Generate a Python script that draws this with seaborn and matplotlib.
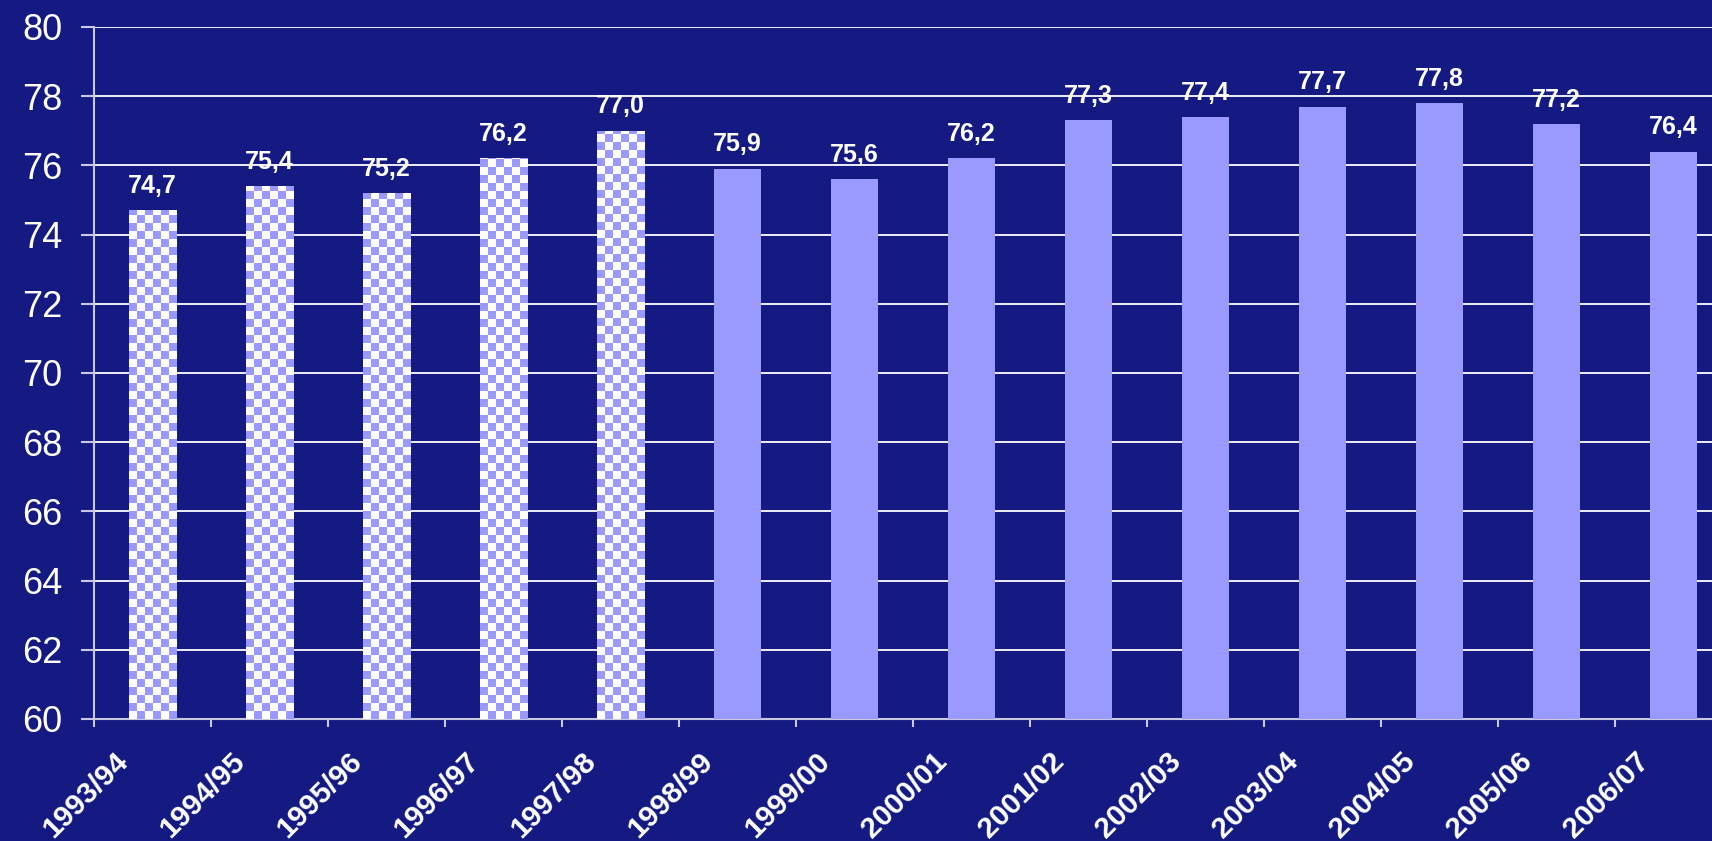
import numpy as np
import matplotlib
matplotlib.use("Agg")
import matplotlib.pyplot as plt
import matplotlib.transforms as mtransforms
from matplotlib.colors import ListedColormap
import seaborn as sns
import pandas as pd

# ---- data ----
seasons = ["1993/94", "1994/95", "1995/96", "1996/97", "1997/98", "1998/99", "1999/00",
           "2000/01", "2001/02", "2002/03", "2003/04", "2004/05", "2005/06", "2006/07"]
values = [74.7, 75.4, 75.2, 76.2, 77.0, 75.9, 75.6, 76.2, 77.3, 77.4, 77.7, 77.8, 77.2, 76.4]
value_labels = ["74,7", "75,4", "75,2", "76,2", "77,0", "75,9", "75,6",
                "76,2", "77,3", "77,4", "77,7", "77,8", "77,2", "76,4"]
checkered = [True, True, True, True, True, False, False,
             False, False, False, False, False, False, False]
y_ticks = [60, 62, 64, 66, 68, 70, 72, 74, 76, 78, 80]

BG = "#141A82"
BAR = "#9999FF"
AXC = "#C8C8E0"

sns.set_style("white")
plt.rcParams["font.family"] = ["Liberation Sans", "DejaVu Sans"]

W, H = 1712, 841
fig = plt.figure(figsize=(W / 100, H / 100), dpi=100, facecolor=BG)
ax = fig.add_axes([94 / W, (H - 719) / H, 1638 / W, (719 - 27) / H])
ax.set_facecolor(BG)

df = pd.DataFrame({"season": seasons, "value": values})
sns.barplot(data=df, x="season", y="value", hue="season", palette=[BAR] * len(seasons),
            legend=False, width=0.41, saturation=1, ax=ax, zorder=3,
            edgecolor="none", linewidth=0)

ax.set_xlim(-0.5, len(seasons) - 0.5)
ax.set_ylim(60, 80)

# checker pattern for the first bars
ax_h_px = 719 - 27
sq_y = 8 / (ax_h_px / 20)
cmap = ListedColormap(["white", BAR])
for bar, chk in zip(ax.patches, checkered):
    if not chk:
        continue
    x0 = bar.get_x()
    w = bar.get_width()
    top = bar.get_height()
    ny = int(np.ceil((top - 60) / sq_y))
    nx = 6
    arr = np.add.outer(np.arange(ny), np.arange(nx)) % 2
    im = ax.imshow(arr, cmap=cmap, extent=(x0, x0 + w, 60, 60 + ny * sq_y), origin="lower",
                   aspect="auto", interpolation="nearest", zorder=3.5)
    im.set_clip_path(bar)

ax.set_xlim(-0.5, len(seasons) - 0.5)
ax.set_ylim(60, 80)

# value labels
for i, (v, lab) in enumerate(zip(values, value_labels)):
    ax.annotate(lab, (i, v), xytext=(0, 12.5), textcoords="offset points",
                ha="center", va="baseline", color="white", fontsize=18, fontweight="bold",
                zorder=5)

# grid & spines
ax.set_axisbelow(True)
ax.yaxis.grid(True, color="white", linewidth=1.3)
ax.xaxis.grid(False)
for s in ["top", "right"]:
    ax.spines[s].set_visible(False)
for s in ["left", "bottom"]:
    ax.spines[s].set_color(AXC)
    ax.spines[s].set_linewidth(1.5)

ax.set_yticks(y_ticks)
ax.tick_params(axis="y", direction="out", length=9.5, width=1.5, color=AXC,
               labelcolor="white", labelsize=26, pad=13, left=True)
ax.set_xlabel("")
ax.set_ylabel("")

# category boundary ticks (minor), labels at centers (major)
ax.set_xticks([i - 0.5 for i in range(len(seasons))], minor=True)
ax.set_xticks(range(len(seasons)))
ax.set_xticklabels(seasons, rotation=45, ha="right", va="center", rotation_mode="anchor",
                   fontsize=21.5, fontweight="bold", color="white")
ax.tick_params(axis="x", which="major", length=0, pad=0)
ax.tick_params(axis="x", which="minor", direction="out", length=6, width=1.5, color=AXC,
               bottom=True)
offset = mtransforms.ScaledTranslation(-0.29, -0.38, fig.dpi_scale_trans)
for lbl in ax.get_xticklabels():
    lbl.set_transform(lbl.get_transform() + offset)

fig.savefig("out.png", dpi=100, facecolor=BG)
